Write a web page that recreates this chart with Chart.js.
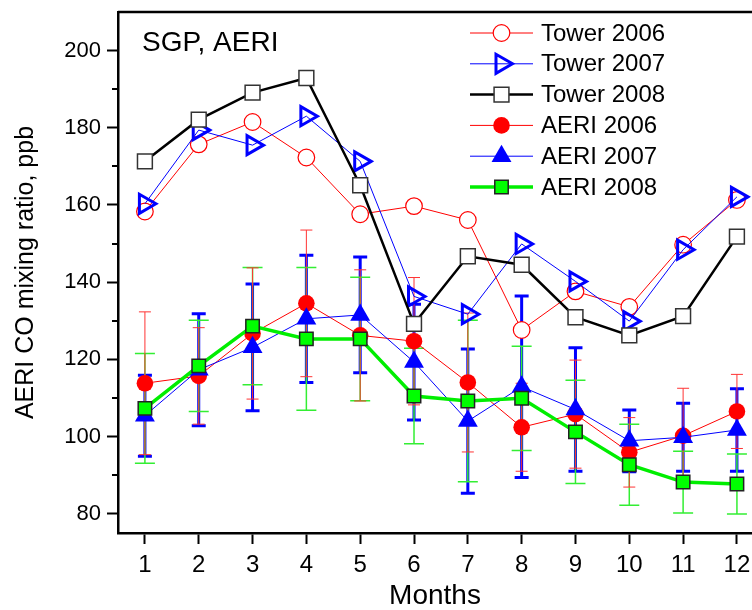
<!DOCTYPE html>
<html>
<head>
<meta charset="utf-8">
<script src="https://cdn.jsdelivr.net/npm/chart.js@4.4.1/dist/chart.umd.min.js"></script>
<style>
  html, body { margin: 0; padding: 0; background: #fff; overflow: hidden; }
  #wrap { width: 752px; height: 610px; }
</style>
</head>
<body>
<div id="wrap"><canvas id="coChart" width="752" height="610"></canvas></div>
<script>
// Monthly CO mixing ratio at SGP, tower vs AERI retrievals
const months = [1, 2, 3, 4, 5, 6, 7, 8, 9, 10, 11, 12];
const yTicks = [80, 100, 120, 140, 160, 180, 200];
const yMinorTicks = [90, 110, 130, 150, 170, 190];

const tower2006 = [158.3, 175.7, 181.5, 172.3, 157.6, 159.7, 156.1, 127.6, 137.6, 133.6, 149.7, 161.3];
const tower2007 = [160.3, 179.4, 175.5, 183.0, 171.3, 136.3, 131.7, 149.9, 140.2, 129.9, 148.4, 162.1];
const tower2008 = [171.3, 182.1, 189.1, 192.9, 165.1, 129.2, 146.7, 144.5, 130.9, 126.2, 131.2, 151.8];

const aeri2006 = [113.8, 115.7, 126.7, 134.5, 126.2, 124.7, 114.0, 102.4, 105.8, 95.9, 100.2, 106.5];
const aeri2006Err = [18.5, 12.5, 17.0, 19.0, 17.0, 16.5, 18.0, 11.4, 14.0, 9.0, 12.3, 9.6];
const aeri2007 = [105.4, 117.3, 123.1, 130.5, 131.5, 119.3, 104.0, 112.9, 107.0, 98.9, 99.8, 101.7];
const aeri2007Err = [10.5, 14.5, 16.4, 16.5, 15.0, 15.0, 18.7, 23.5, 16.0, 8.0, 8.8, 10.7];
const aeri2008 = [107.3, 118.3, 128.6, 125.3, 125.3, 110.5, 109.2, 109.9, 101.2, 92.7, 88.2, 87.7];
const aeri2008Err = [14.2, 11.8, 15.2, 18.5, 16.0, 12.4, 20.9, 13.5, 13.4, 10.5, 8.0, 7.8];

const FONT = "'Liberation Sans', Arial, sans-serif";

function toPoints(values) {
    return months.map((m, i) => ({ x: m, y: values[i] }));
}

// error bars drawn under the markers
const errorSets = [
    { values: aeri2007, err: aeri2007Err, color: '#0000ff', width: 3, cap: 7 },
    { values: aeri2008, err: aeri2008Err, color: '#33ee33', width: 1.5, cap: 10 },
    { values: aeri2006, err: aeri2006Err, color: '#ff3333', width: 1, cap: 6 }
];

const errorBarsPlugin = {
    id: 'errorBars',
    beforeDatasetsDraw(chart) {
        const ctx = chart.ctx;
        const xs = chart.scales.x;
        const ys = chart.scales.y;
        errorSets.forEach(set => {
            ctx.save();
            ctx.strokeStyle = set.color;
            ctx.lineWidth = set.width;
            set.values.forEach((v, i) => {
                const px = xs.getPixelForValue(months[i]);
                const top = ys.getPixelForValue(v + set.err[i]);
                const bot = ys.getPixelForValue(v - set.err[i]);
                ctx.beginPath();
                ctx.moveTo(px, top);
                ctx.lineTo(px, bot);
                ctx.moveTo(px - set.cap, top);
                ctx.lineTo(px + set.cap, top);
                ctx.moveTo(px - set.cap, bot);
                ctx.lineTo(px + set.cap, bot);
                ctx.stroke();
            });
            ctx.restore();
        });
    }
};

// top frame line, minor y ticks, inset label and legend
const decorPlugin = {
    id: 'decor',
    afterDraw(chart) {
        const ctx = chart.ctx;
        const area = chart.chartArea;
        const ys = chart.scales.y;
        ctx.save();
        ctx.strokeStyle = '#000';
        ctx.lineWidth = 2.5;
        ctx.beginPath();
        ctx.moveTo(area.left, area.top);
        ctx.lineTo(area.right, area.top);
        ctx.stroke();

        ctx.lineWidth = 2;
        yMinorTicks.forEach(v => {
            const py = Math.round(ys.getPixelForValue(v));
            ctx.beginPath();
            ctx.moveTo(area.left - 6, py);
            ctx.lineTo(area.left, py);
            ctx.stroke();
        });

        ctx.fillStyle = '#000';
        ctx.font = '28px ' + FONT;
        ctx.textBaseline = 'alphabetic';
        ctx.textAlign = 'left';
        ctx.fillText('SGP, AERI', 142, 51);

        ctx.font = '24px ' + FONT;
        ctx.textBaseline = 'middle';
        chart.data.datasets.forEach((ds, i) => {
            const ly = 33 + i * 30.8;
            ctx.strokeStyle = ds.borderColor;
            ctx.lineWidth = ds.borderWidth;
            ctx.beginPath();
            ctx.moveTo(470, ly);
            ctx.lineTo(533, ly);
            ctx.stroke();
            ctx.fillStyle = ds.pointBackgroundColor;
            ctx.strokeStyle = ds.pointBorderColor;
            ctx.lineWidth = ds.pointBorderWidth;
            Chart.helpers.drawPoint(ctx, {
                pointStyle: ds.pointStyle,
                radius: ds.pointRadius,
                rotation: ds.pointRotation || 0,
                borderWidth: ds.pointBorderWidth
            }, 501.5, ly);
            ctx.fillStyle = '#000';
            ctx.fillText(ds.label, 541, ly + 1);
        });
        ctx.restore();
    }
};

const ctx = document.getElementById('coChart').getContext('2d');
const chart = new Chart(ctx, {
    type: 'line',
    data: {
        datasets: [
            {
                label: 'Tower 2006',
                data: toPoints(tower2006),
                borderColor: '#ff0000',
                borderWidth: 1,
                pointStyle: 'circle',
                pointRadius: 8.3,
                pointBackgroundColor: '#ffffff',
                pointBorderColor: '#ff0000',
                pointBorderWidth: 1.2,
                order: 6
            },
            {
                label: 'Tower 2007',
                data: toPoints(tower2007),
                borderColor: '#0000ff',
                borderWidth: 1,
                pointStyle: 'triangle',
                pointRotation: 90,
                pointRadius: 11,
                pointBackgroundColor: 'rgba(255,255,255,0)',
                pointBorderColor: '#0000ff',
                pointBorderWidth: 3,
                order: 5
            },
            {
                label: 'Tower 2008',
                data: toPoints(tower2008),
                borderColor: '#000000',
                borderWidth: 2.5,
                pointStyle: 'rect',
                pointRadius: 10.5,
                pointBackgroundColor: '#ffffff',
                pointBorderColor: '#333333',
                pointBorderWidth: 1.5,
                order: 4
            },
            {
                label: 'AERI 2006',
                data: toPoints(aeri2006),
                borderColor: '#ff0000',
                borderWidth: 1,
                pointStyle: 'circle',
                pointRadius: 8.3,
                pointBackgroundColor: '#ff0000',
                pointBorderColor: '#ff0000',
                pointBorderWidth: 0,
                order: 3
            },
            {
                label: 'AERI 2007',
                data: toPoints(aeri2007),
                borderColor: '#0000ff',
                borderWidth: 1,
                pointStyle: 'triangle',
                pointRadius: 11.5,
                pointBackgroundColor: '#0000ff',
                pointBorderColor: '#0000ff',
                pointBorderWidth: 0,
                order: 2
            },
            {
                label: 'AERI 2008',
                data: toPoints(aeri2008),
                borderColor: '#00ee00',
                borderWidth: 3.5,
                pointStyle: 'rect',
                pointRadius: 9.5,
                pointBackgroundColor: '#00ff00',
                pointBorderColor: '#222222',
                pointBorderWidth: 1.5,
                order: 1
            }
        ]
    },
    options: {
        responsive: false,
        animation: false,
        devicePixelRatio: 1,
        layout: { autoPadding: false, padding: { top: 12, right: 0, left: 0, bottom: 0 } },
        plugins: {
            legend: { display: false },
            tooltip: { enabled: false }
        },
        scales: {
            x: {
                type: 'linear',
                min: 0.5,
                max: 12.28,
                afterBuildTicks: axis => { axis.ticks = months.map(v => ({ value: v })); },
                afterFit: scale => {
                    scale.height = 77;
                    scale.paddingLeft = 0;
                    scale.paddingRight = 0;
                },
                border: { display: true, color: '#000', width: 2.5 },
                grid: { drawOnChartArea: false, drawTicks: true, color: '#000', tickColor: '#000', tickLength: 11, tickWidth: 2 },
                ticks: { color: '#000', font: { family: FONT, size: 24 }, padding: 7, maxRotation: 0, autoSkip: false },
                title: { display: true, text: 'Months', color: '#000', font: { family: FONT, size: 28, lineHeight: 1 }, padding: 0 }
            },
            y: {
                type: 'linear',
                min: 75,
                max: 210,
                afterBuildTicks: axis => { axis.ticks = yTicks.map(v => ({ value: v })); },
                afterFit: scale => {
                    scale.width = 118;
                    scale.paddingTop = 0;
                    scale.paddingBottom = 0;
                },
                border: { display: true, color: '#000', width: 2.5 },
                grid: { drawOnChartArea: false, drawTicks: true, color: '#000', tickColor: '#000', tickLength: 11, tickWidth: 2 },
                ticks: { color: '#000', font: { family: FONT, size: 22 }, padding: 6 },
                title: { display: true, text: 'AERI CO mixing ratio, ppb', color: '#000', font: { family: FONT, size: 25, lineHeight: 1 }, padding: { top: 14, bottom: 0 } }
            }
        }
    },
    plugins: [errorBarsPlugin, decorPlugin]
});
</script>
</body>
</html>
